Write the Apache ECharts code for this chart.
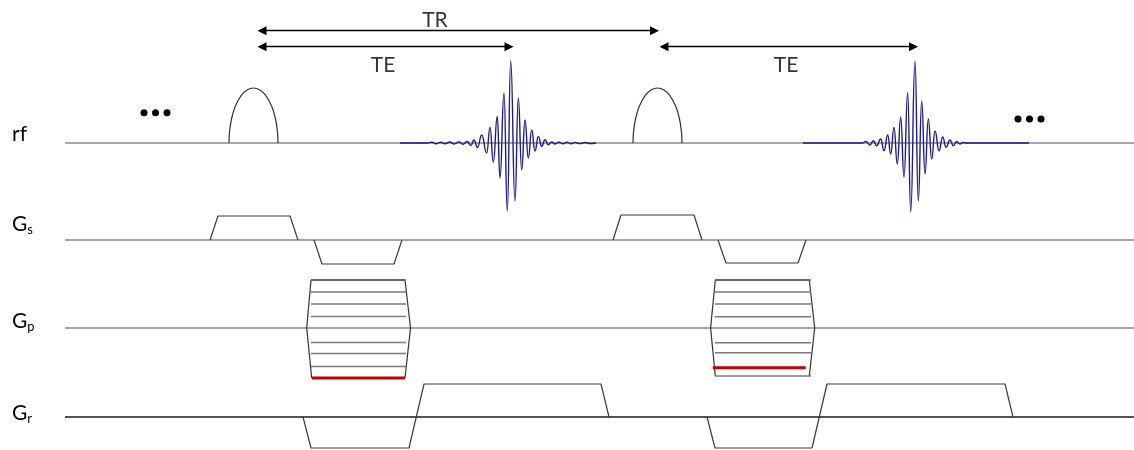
<!DOCTYPE html>
<html><head><meta charset="utf-8">
<script src="https://cdn.jsdelivr.net/npm/echarts@6/dist/echarts.min.js"></script>
<style>html,body{margin:0;padding:0;background:#fff}#c{width:1134px;height:450px}</style>
</head><body><div id="c"></div>
<script>
// ---- time axis (arbitrary units) ----
const timeRange = [0, 1134];
const baselineSpan = [65, 1134];

// ---- channel labels ----
const channelMain = ['rf', 'G', 'G', 'G'];
const channelSub = ['', 's', 'p', 'r'];

// ---- rf excitation pulses ----
const rfPulse1Times = [229, 229.5, 231.5, 235.2, 241.3, 247.4, 253.5, 259.6, 265.7, 271.8, 275.5, 277.5, 278];
const rfPulse2Times = [633, 633.5, 635.5, 639.2, 645.3, 651.4, 657.5, 663.6, 669.7, 675.8, 679.5, 681.5, 682];
const rfPulseAmps = [0, 10.9, 24, 36.4, 47.6, 53.3, 55, 53.3, 47.6, 36.4, 24, 10.9, 0];

// ---- echoes ----
const echo1Times = [400, 427, 432, 436, 441, 445, 450, 454, 459, 463, 467, 471, 474, 477.5, 481.7, 486.7, 490, 493.3, 497.3, 500, 504, 507.3, 510.7, 515, 518.3, 521.7, 525, 528.3, 531.7, 535, 538.3, 541.7, 545, 548.3, 551.7, 555, 559, 563, 567, 571, 575, 580, 585, 590, 596];
const echo1Amps = [0, 0, 0.8, -0.8, 0.8, -0.8, 1, -1, 1, -1.2, 1.5, -2.5, 3, -4.5, 8, -10, 15.6, -19, 26.6, -35, 50, -68, 82, -58, 45, -27, 23, -15, 13, -8, 6.6, -3.3, 3.3, -1.7, 1, -1, 0.8, -0.8, 0.8, -0.8, 0.6, -0.6, 0.5, -0.5, 0];
const echo2Times = [803, 862, 866, 870, 873.3, 876.7, 880.7, 884, 887.7, 890.7, 894, 897.3, 900.7, 904, 907.7, 910.7, 915, 918.3, 921.7, 925, 928.3, 931.7, 935, 939, 942.7, 946, 950, 953.3, 956.7, 960, 963, 966, 1029];
const echo2Amps = [0, 0, 1.5, -2, 2.3, -2.7, 4, -7.7, 8, -11, 15.6, -21, 26, -34, 50.6, -69, 82, -58, 42, -31, 24, -16, 12, -7.7, 6, -4.3, 3, -2.7, 1.3, -1, 0.5, 0, 0];

// ---- timing intervals ----
const trSpan = [257.5, 659];
const te1Span = [257.5, 513.5];
const te2Span = [659.5, 918];
const trLevel = 112.3, teLevel = 96.3;
const intervalLabels = ['TR', 'TE', 'TE'];
const intervalLabelTimes = [435, 383, 786];
const intervalLabelAmps = [122.3, 78, 78];

// ---- continuation dots ----
const dotTimes = [144, 155.5, 167, 1018, 1029.5, 1041];
const dotAmps = [30.3, 30.3, 30.3, 24, 24, 24];

// ---- slice-select gradient lobes ----
const gsLobe1Times = [210, 218, 290, 298], gsLobe1Amps = [0, 24, 24, 0];
const gsLobe2Times = [314, 322, 394, 402], gsLobe2Amps = [0, -24, -24, 0];
const gsLobe3Times = [613, 621, 694, 702], gsLobe3Amps = [0, 25, 25, 0];
const gsLobe4Times = [718, 726, 798, 806], gsLobe4Amps = [0, -23, -23, 0];

// ---- phase-encode tables ----
const gp1LeftTimes = [311, 306.7, 311.7], gp1RightTimes = [405, 410.5, 405];
const gpEdgeAmps1 = [48, 0, -50];
const gp1Steps = [48, 36, 24, 11.5, -14.5, -25.5, -38.5];
const gp1StepSpan = [311, 406];
const gp1Active = -50, gp1ActiveSpan = [311.8, 405];
const gp2LeftTimes = [715.3, 710.6, 715.3], gp2RightTimes = [809.3, 814.7, 809.3];
const gpEdgeAmps2 = [48, 0, -48];
const gp2Steps = [48, 36, 24, 11.3, -14.7, -24.7, -48];
const gp2StepSpan = [715, 811];
const gp2Active = -39.7, gp2ActiveSpan = [712.7, 805.7];

// ---- readout gradient ----
const gr1Times = [303, 311, 409, 424, 601, 609];
const gr2Times = [707, 715, 812, 827, 1005, 1013];
const grAmps = [0, -31, -31, 33, 33, 0];

// ---- axis ranges (amplitude) per channel ----
const ampMax = [143, 240, 328, 417];
const ampMin = [-307, -210, -122, -33];

const zip = (t, a) => t.map((v, i) => [v, a[i]]);
const font = 'Lato, "Open Sans", sans-serif';

function line(ch, data, color, width, extra) {
  return Object.assign({
    type: 'line', xAxisIndex: ch, yAxisIndex: ch, data: data,
    showSymbol: false, symbol: 'none', silent: true,
    lineStyle: { color: color, width: width }, z: 2
  }, extra || {});
}

const series = [];
// baselines
const baseColors = ['#8a8a8a', '#8a8a8a', '#8a8a8a', '#1a1a1a'];
for (let c = 0; c < 4; c++) series.push(line(c, [[baselineSpan[0], 0], [baselineSpan[1], 0]], baseColors[c], 1.4, { z: 1 }));
// rf
series.push(line(0, zip(rfPulse1Times, rfPulseAmps), '#333', 1.2, { smooth: 0.3 }));
series.push(line(0, zip(rfPulse2Times, rfPulseAmps), '#333', 1.2, { smooth: 0.3 }));
series.push(line(0, zip(echo1Times, echo1Amps), '#1c1c88', 1.4, { smooth: 0.5, smoothMonotone: 'x', z: 3 }));
series.push(line(0, zip(echo2Times, echo2Amps), '#1c1c88', 1.4, { smooth: 0.5, smoothMonotone: 'x', z: 3 }));
// Gs
[[gsLobe1Times, gsLobe1Amps], [gsLobe2Times, gsLobe2Amps], [gsLobe3Times, gsLobe3Amps], [gsLobe4Times, gsLobe4Amps]]
  .forEach(p => series.push(line(1, zip(p[0], p[1]), '#3a3a3a', 1.2)));
// Gp
function gpBlock(leftT, rightT, edgeA, steps, span, active, activeSpan) {
  series.push(line(2, zip(leftT, edgeA), '#333', 1.2));
  series.push(line(2, zip(rightT, edgeA), '#333', 1.2));
  steps.forEach(s => series.push(line(2, [[span[0], s], [span[1], s]], '#7a7a7a', 1.5)));
  series.push(line(2, [[leftT[0], edgeA[0]], [rightT[0], edgeA[0]]], '#555', 1.3));
  series.push(line(2, [[activeSpan[0], active], [activeSpan[1], active]], '#c00000', 3, { z: 4 }));
}
gpBlock(gp1LeftTimes, gp1RightTimes, gpEdgeAmps1, gp1Steps, gp1StepSpan, gp1Active, gp1ActiveSpan);
gpBlock(gp2LeftTimes, gp2RightTimes, gpEdgeAmps2, gp2Steps, gp2StepSpan, gp2Active, gp2ActiveSpan);
// Gr
series.push(line(3, zip(gr1Times, grAmps), '#3a3a3a', 1.2));
series.push(line(3, zip(gr2Times, grAmps), '#3a3a3a', 1.2));

// interval arrows
const head = 9;
const arrowData = [[trSpan, trLevel], [te1Span, teLevel], [te2Span, teLevel]].map(a => ({
  coords: [[a[0][0] + head / 2, a[1]], [a[0][1] - head / 2, a[1]]]
}));
series.push({
  type: 'lines', coordinateSystem: 'cartesian2d', xAxisIndex: 0, yAxisIndex: 0,
  symbol: ['triangle', 'triangle'], symbolSize: head, silent: true,
  lineStyle: { color: '#000', width: 1.3, opacity: 1, curveness: 0 },
  itemStyle: { color: '#000' },
  data: arrowData, z: 5
});
// interval labels
series.push({
  type: 'scatter', xAxisIndex: 0, yAxisIndex: 0, symbolSize: 0, silent: true,
  data: intervalLabels.map((n, i) => ({ name: n, value: [intervalLabelTimes[i], intervalLabelAmps[i]] })),
  label: { show: true, position: 'inside', formatter: p => p.name, fontSize: 21, fontFamily: font, color: '#000' }
});
// dots
series.push({
  type: 'scatter', xAxisIndex: 0, yAxisIndex: 0, symbol: 'circle', symbolSize: 7, silent: true,
  itemStyle: { color: '#000', opacity: 1 }, data: zip(dotTimes, dotAmps), z: 5
});

const grids = [], xAxes = [], yAxes = [];
for (let c = 0; c < 4; c++) {
  grids.push({ left: 0, right: 0, top: 0, bottom: 0, containLabel: false });
  xAxes.push({ type: 'value', gridIndex: c, min: timeRange[0], max: timeRange[1], show: false });
  yAxes.push({ type: 'value', gridIndex: c, min: ampMin[c], max: ampMax[c], show: false });
}

const labelTops = [124, 214, 311, 403];
const graphic = channelMain.map((m, i) => ({
  type: 'text', left: 12, top: labelTops[i], silent: true,
  style: {
    text: channelSub[i] ? '{g|' + m + '}{s|' + channelSub[i] + '}' : '{g|' + m + '}',
    fill: '#000',
    rich: {
      g: { fontSize: 21, fontFamily: font, lineHeight: 24, fill: '#000' },
      s: { fontSize: 13, fontFamily: font, lineHeight: 13, verticalAlign: 'bottom', fill: '#000' }
    }
  }
}));

const chart = echarts.init(document.getElementById('c'), null, { renderer: 'canvas' });
chart.setOption({
  animation: false, backgroundColor: '#fff',
  grid: grids, xAxis: xAxes, yAxis: yAxes, series: series, graphic: graphic
});
</script></body></html>
